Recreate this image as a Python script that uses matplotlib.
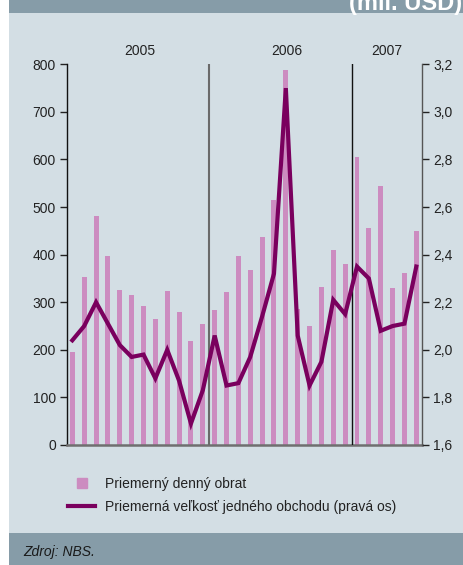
import matplotlib
matplotlib.use("Agg")
import matplotlib.pyplot as plt
from matplotlib.patches import Rectangle
from matplotlib.lines import Line2D
from matplotlib.ticker import FuncFormatter, MultipleLocator
import numpy as np

plt.rcParams['font.family'] = ['Liberation Sans', 'DejaVu Sans']

# Data: Jan 2005 .. Jun 2007 (monthly)
years = ["2005", "2006", "2007"]
year_label_pos = [5.7, 18.1, 26.5]
turnover = [196, 354, 481, 398, 326, 316, 293, 265, 324, 279, 218, 255,
            284, 322, 397, 367, 437, 514, 788, 285, 251, 333, 410, 380,
            605, 455, 544, 329, 362, 449]
trade_size = [2.04, 2.10, 2.20, 2.11, 2.02, 1.97, 1.98, 1.88, 2.00, 1.87, 1.69, 1.83,
              2.06, 1.85, 1.86, 1.97, 2.14, 2.32, 3.10, 2.06, 1.85, 1.95, 2.21, 2.15,
              2.35, 2.30, 2.08, 2.10, 2.11, 2.35]
label_bars = "Priemerný denný obrat"
label_line = "Priemerná veľkosť jedného obchodu (pravá os)"
source = "Zdroj: NBS."
header = "(mil. USD)"

W, H = 464, 565
BG = "#D3DEE4"
BAND = "#869CA8"
BAR = "#CC8CC0"
LINE = "#7A005E"

fig = plt.figure(figsize=(W / 100, H / 100), dpi=100, facecolor="white")

def fx(px):
    return px / W

def fy(py):
    return 1 - py / H

# background panels
fig.add_artist(Rectangle((fx(9), 0), 1 - fx(9), 1, transform=fig.transFigure,
                         facecolor=BG, edgecolor="none", zorder=-10))
fig.add_artist(Rectangle((fx(9), fy(13)), 1 - fx(9), 13 / H, transform=fig.transFigure,
                         facecolor=BAND, edgecolor="none", zorder=-9))
fig.add_artist(Rectangle((fx(9), 0), 1 - fx(9), fy(533), transform=fig.transFigure,
                         facecolor=BAND, edgecolor="none", zorder=-9))
fig.text(fx(462), fy(10), header, ha="right", va="baseline", fontsize=17,
         fontweight="bold", color="white")
fig.text(fx(23), fy(552), source, ha="left", va="center", fontsize=10,
         style="italic", color="#1a1a1a")

ax = fig.add_axes([fx(67), fy(445), fx(422) - fx(67), (445 - 64.3) / H])
ax.patch.set_alpha(0)
x = np.arange(len(turnover))
ax.bar(x, turnover, width=0.42, color=BAR, zorder=2)
ax.set_xlim(-0.45, 29.48)
ax.set_ylim(0, 800)
ax.yaxis.set_major_locator(MultipleLocator(100))
ax.set_xticks([])
ax.tick_params(axis="y", direction="out", length=5, width=1, labelsize=10,
               colors="#222222", pad=3)
for s in ["top", "right"]:
    ax.spines[s].set_visible(False)
ax.spines["left"].set_color("#111111")
ax.spines["left"].set_linewidth(1.0)
ax.spines["bottom"].set_color("#6f6f6f")
ax.spines["bottom"].set_linewidth(1.8)

ax.axvline(11.53, color="#6a6a6a", lw=1.5, zorder=3)
ax.axvline(23.57, color="#111111", lw=1.0, zorder=3)

for lab, pos in zip(years, year_label_pos):
    ax.text(pos, 1.0 + 13.5 / 381, lab, transform=ax.get_xaxis_transform(),
            ha="center", va="center", fontsize=10, color="#222222")

ax2 = ax.twinx()
ax2.plot(x, trade_size, color=LINE, lw=3.0, solid_joinstyle="miter", zorder=4)
ax2.set_ylim(1.6, 3.2)
ax2.yaxis.set_major_locator(MultipleLocator(0.2))
ax2.yaxis.set_major_formatter(FuncFormatter(lambda v, p: f"{v:.1f}".replace(".", ",")))
ax2.tick_params(axis="y", direction="out", length=5, width=1, labelsize=10,
                colors="#222222", pad=3)
for s in ["top", "left", "bottom"]:
    ax2.spines[s].set_visible(False)
ax2.spines["right"].set_color("#555555")
ax2.spines["right"].set_linewidth(1.0)

handles = [Line2D([], [], marker="s", linestyle="none", markersize=7.5,
                  markerfacecolor=BAR, markeredgecolor=BAR),
           Line2D([], [], color=LINE, lw=3.0)]
fig.legend(handles, [label_bars, label_line], loc="upper left",
           bbox_to_anchor=(fx(68), fy(477)), frameon=False, fontsize=10,
           handlelength=1.95, handletextpad=0.75, labelspacing=0.62,
           borderpad=0, borderaxespad=0, labelcolor="#222222")

fig.savefig("out.png", dpi=100, facecolor="white")
